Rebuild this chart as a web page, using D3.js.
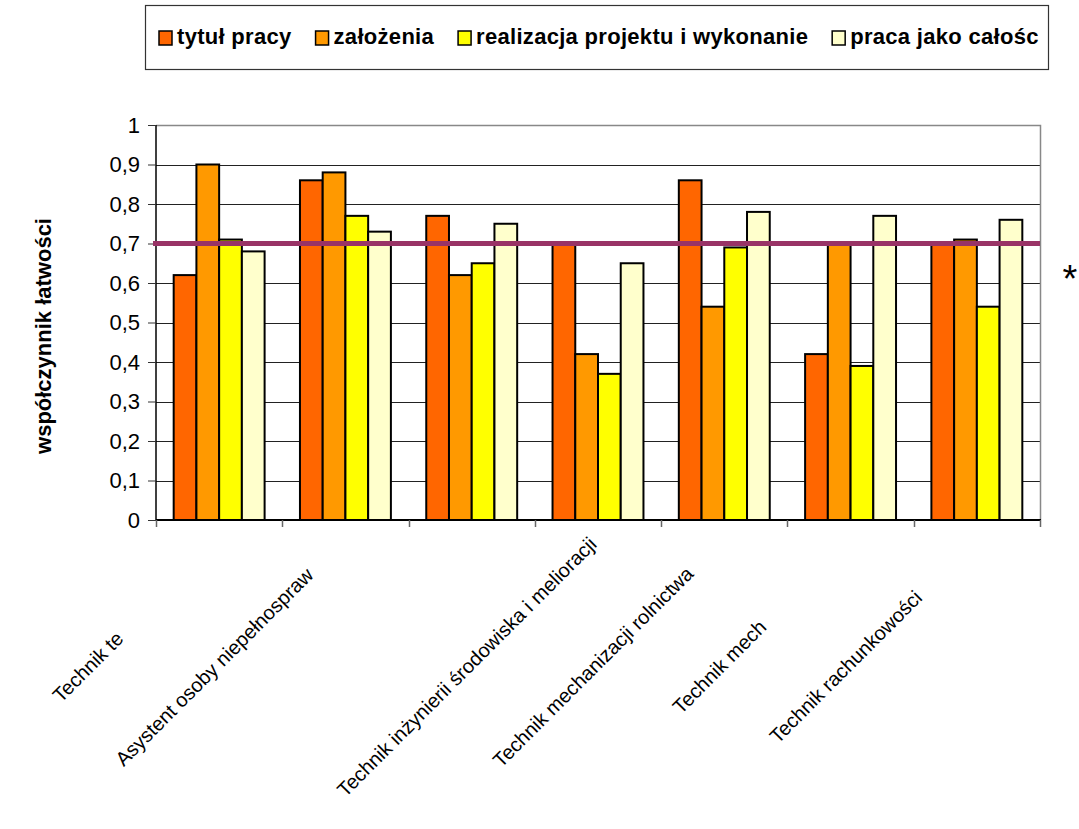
<!DOCTYPE html>
<html>
<head>
<meta charset="utf-8">
<script src="https://cdn.jsdelivr.net/npm/d3@7"></script>
<style>
  html, body { margin: 0; padding: 0; background: #fff; }
  svg { display: block; font-family: "Liberation Sans", Arial, sans-serif; }
</style>
</head>
<body>
<svg id="chart" width="1079" height="829"></svg>
<script>
// ---- data ----
const categories = [
  "Technik te",
  "Asystent osoby niepełnospraw",
  "",
  "Technik inżynierii środowiska i melioracji",
  "Technik mechanizacji rolnictwa",
  "Technik mech",
  "Technik rachunkowości"
];
const seriesNames = ["tytuł pracy", "założenia", "realizacja projektu i wykonanie", "praca jako całośc"];
const seriesColors = ["#FF6600", "#FF9900", "#FFFF00", "#FFFFCC"];
const tytulPracy   = [0.62, 0.86, 0.77, 0.70, 0.86, 0.42, 0.70];
const zalozenia    = [0.90, 0.88, 0.62, 0.42, 0.54, 0.70, 0.71];
const realizacja   = [0.71, 0.77, 0.65, 0.37, 0.69, 0.39, 0.54];
const calosc       = [0.68, 0.73, 0.75, 0.65, 0.78, 0.77, 0.76];
const threshold = 0.7;
const yTicks = [0, 0.1, 0.2, 0.3, 0.4, 0.5, 0.6, 0.7, 0.8, 0.9, 1];
const yTitle = "współczynnik łatwości";
const note = "*";

const series = [tytulPracy, zalozenia, realizacja, calosc];

// ---- layout ----
const svg = d3.select("#chart");
const plot = { left: 156, right: 1040, top: 125, bottom: 520 };

const x0 = d3.scaleBand()
  .domain(d3.range(categories.length))
  .range([plot.left, plot.right])
  .paddingInner(0.28)
  .paddingOuter(0.14);
const x1 = d3.scaleBand()
  .domain(d3.range(series.length))
  .range([0, x0.bandwidth()])
  .padding(0);
const y = d3.scaleLinear().domain([0, 1]).range([plot.bottom, plot.top]);

// gridlines
svg.append("g")
  .selectAll("line")
  .data(yTicks.filter(t => t > 0 && t < 1))
  .join("line")
  .attr("x1", plot.left).attr("x2", plot.right)
  .attr("y1", d => Math.round(y(d)) + 0.5).attr("y2", d => Math.round(y(d)) + 0.5)
  .attr("stroke", "#222").attr("stroke-width", 1);

// plot border (top, right)
svg.append("path")
  .attr("d", `M${plot.left},${plot.top + 0.5}H${plot.right + 0.5}V${plot.bottom}`)
  .attr("fill", "none").attr("stroke", "#888").attr("stroke-width", 1.5);

// bars
const groups = svg.append("g")
  .selectAll("g")
  .data(categories.map((c, i) => i))
  .join("g")
  .attr("transform", i => `translate(${x0(i)},0)`);
groups.selectAll("rect")
  .data(i => series.map((s, k) => ({ k, v: s[i] })))
  .join("rect")
  .attr("x", d => x1(d.k))
  .attr("width", x1.bandwidth())
  .attr("y", d => y(d.v))
  .attr("height", d => y(0) - y(d.v))
  .attr("fill", d => seriesColors[d.k])
  .attr("stroke", "#000")
  .attr("stroke-width", 2);

// y axis
const yAxis = d3.axisLeft(y)
  .tickValues(yTicks)
  .tickSize(8)
  .tickPadding(8)
  .tickFormat(d => d === 0 ? "0" : d === 1 ? "1" : d3.format(".1f")(d).replace(".", ","));
const yg = svg.append("g").attr("transform", `translate(${plot.left},0)`).call(yAxis);
yg.select(".domain").attr("stroke", "#000").attr("stroke-width", 1.5).attr("d", `M-0,${plot.top}V${plot.bottom}`);
yg.selectAll(".tick line").attr("stroke", "#333");
yg.selectAll("text").attr("font-size", 22).attr("fill", "#000")
  .attr("font-family", "'Liberation Sans', Arial, sans-serif");

// x axis (ticks at category boundaries)
const boundaries = d3.range(categories.length + 1).map(i => plot.left + i * x0.step());
svg.append("line")
  .attr("x1", plot.left).attr("x2", plot.right + 1)
  .attr("y1", plot.bottom).attr("y2", plot.bottom)
  .attr("stroke", "#000").attr("stroke-width", 2);
svg.append("g").selectAll("line")
  .data(boundaries)
  .join("line")
  .attr("x1", d => Math.round(d) + 0.5).attr("x2", d => Math.round(d) + 0.5)
  .attr("y1", plot.bottom).attr("y2", plot.bottom + 7)
  .attr("stroke", "#666").attr("stroke-width", 1.5);

// x labels, rotated -45, centered below category
svg.append("g").selectAll("text")
  .data(categories.map((c, i) => ({ c, i })))
  .join("text")
  .attr("transform", d => {
    const cx = x0(d.i) + x0.bandwidth() / 2 - 130;
    return `translate(${cx},668) rotate(-45)`;
  })
  .attr("text-anchor", "middle")
  .attr("dominant-baseline", "middle")
  .attr("font-size", 20)
  .attr("fill", "#000")
  .text(d => d.c);

// threshold line
svg.append("line")
  .attr("x1", plot.left - 3).attr("x2", plot.right)
  .attr("y1", y(threshold)).attr("y2", y(threshold))
  .attr("stroke", "#993366").attr("stroke-width", 5);

// y title
svg.append("text")
  .attr("transform", `translate(45,336) rotate(-90)`)
  .attr("text-anchor", "middle")
  .attr("dominant-baseline", "middle")
  .attr("font-size", 22).attr("font-weight", "bold")
  .text(yTitle);

// asterisk note
svg.append("text")
  .attr("x", 1070).attr("y", 292)
  .attr("text-anchor", "middle")
  .attr("font-size", 38)
  .text(note);

// legend
const legend = svg.append("g");
legend.append("rect")
  .attr("x", 145.5).attr("y", 5.5).attr("width", 903).attr("height", 64)
  .attr("fill", "#fff").attr("stroke", "#333").attr("stroke-width", 1.2);
let lx = 159;
seriesNames.forEach((name, k) => {
  legend.append("rect")
    .attr("x", lx).attr("y", 31).attr("width", 13).attr("height", 14)
    .attr("fill", seriesColors[k]).attr("stroke", "#000").attr("stroke-width", 1.5);
  const t = legend.append("text")
    .attr("x", lx + 18).attr("y", 38)
    .attr("dominant-baseline", "middle")
    .attr("font-size", 22).attr("font-weight", "bold")
    .attr("letter-spacing", 0.3)
    .text(name);
  lx = lx + 18 + t.node().getComputedTextLength() + 24;
});
</script>
</body>
</html>
